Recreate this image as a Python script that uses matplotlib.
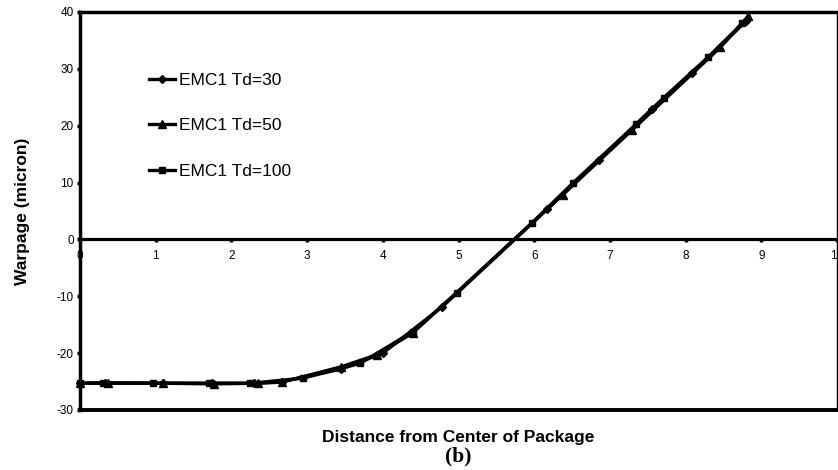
import matplotlib
matplotlib.use("Agg")
import matplotlib.pyplot as plt

plt.rcParams["font.family"] = ["Liberation Sans", "DejaVu Sans"]
plt.rcParams["axes.unicode_minus"] = False

# Warpage profiles for the three Td values
x_td30 = [0.0, 0.33, 1.1, 1.75, 2.3, 2.67, 3.45, 4.0, 4.78, 6.17, 6.85, 7.56, 8.09, 8.8]
y_td30 = [-25.3, -25.3, -25.3, -25.3, -25.3, -25.0, -22.8, -20.0, -11.9, 5.3, 13.9, 23.0, 29.3, 38.4]

x_td50 = [0.0, 0.37, 1.1, 1.77, 2.35, 2.67, 3.45, 3.92, 4.4, 6.38, 7.29, 8.46, 8.83]
y_td50 = [-25.3, -25.2, -25.3, -25.4, -25.3, -25.1, -22.4, -20.3, -16.4, 7.9, 19.2, 33.8, 39.3]

x_td100 = [0.0, 0.3, 0.96, 1.7, 2.25, 2.95, 3.7, 4.4, 4.98, 5.97, 6.51, 7.35, 7.71, 8.3, 8.75]
y_td100 = [-25.3, -25.3, -25.3, -25.3, -25.3, -24.4, -21.8, -16.2, -9.4, 2.9, 9.9, 20.3, 24.9, 32.1, 38.0]

labels = ["EMC1 Td=30", "EMC1 Td=50", "EMC1 Td=100"]
xticks = list(range(0, 11))
yticks = list(range(-30, 41, 10))

fig = plt.figure(figsize=(8.38, 4.70), dpi=100)
ax = fig.add_axes([80 / 838, 1 - 410 / 470, 757 / 838, 398 / 470])

ax.plot(x_td30, y_td30, color="black", lw=2.4, marker="D", ms=4.5, label=labels[0], clip_on=False)
ax.plot(x_td50, y_td50, color="black", lw=2.4, marker="^", ms=6, label=labels[1], clip_on=False)
ax.plot(x_td100, y_td100, color="black", lw=2.4, marker="s", ms=5, label=labels[2], clip_on=False)

ax.set_xlim(0, 10)
ax.set_ylim(-30, 40)
ax.set_xticks(xticks)
ax.set_yticks(yticks)

# x axis sits on the zero line, frame kept around the plot
ax.spines["bottom"].set_position(("data", 0))
ax.spines["bottom"].set_linewidth(2.3)
ax.spines["left"].set_linewidth(2.5)
ax.spines["top"].set_linewidth(2.5)
ax.spines["right"].set_linewidth(1.0)
ax.axhline(-30, color="black", lw=2.8, clip_on=False, zorder=3)

ax.tick_params(axis="both", direction="out", length=2.5, width=2.5, labelsize=8.5, color="black")
ax.tick_params(axis="x", pad=5)
ax.tick_params(axis="y", pad=2)

ax.set_ylabel("Warpage (micron)", fontsize=12.5, fontweight="bold", labelpad=19)
ax.text(0.5, -0.07, "Distance from Center of Package", transform=ax.transAxes,
        ha="center", va="center", fontsize=12.5, fontweight="bold")
ax.text(0.5, -0.118, "(b)", transform=ax.transAxes, ha="center", va="center",
        fontsize=15.5, fontweight="bold", family="Liberation Serif")

leg = ax.legend(loc="upper left", bbox_to_anchor=(0.082, 0.865), frameon=False,
                fontsize=12.5, handlelength=1.5, handletextpad=0.2, labelspacing=1.75,
                borderaxespad=0)

fig.savefig("out.png", dpi=100)
